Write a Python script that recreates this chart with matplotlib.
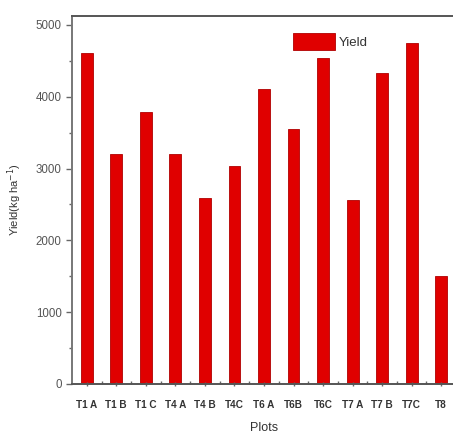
import matplotlib
matplotlib.use("Agg")
import matplotlib.pyplot as plt
from matplotlib.ticker import MultipleLocator, FixedLocator

plots = ["T1 A", "T1 B", "T1 C", "T4 A", "T4 B", "T4C", "T6 A", "T6B",
         "T6C", "T7 A", "T7 B", "T7C", "T8"]
yield_kg_ha = [4610, 3200, 3790, 3200, 2590, 3030, 4110, 3550,
               4540, 2560, 4330, 4750, 1500]

plt.rcParams["font.family"] = ["Liberation Sans", "DejaVu Sans"]

fig = plt.figure(figsize=(4.53, 4.37), dpi=100)
W, H = 453, 437
left, right, top, bottom = 72, 456, 16, 384
ax = fig.add_axes([left / W, 1 - bottom / H, (right - left) / W, (bottom - top) / H])

x = list(range(len(plots)))
ax.bar(x, yield_kg_ha, width=0.4, color="#e00000", edgecolor="#b00000",
       linewidth=0.6, label="Yield")

ax.set_xlim(-0.5, len(plots) - 0.5)
ax.set_ylim(0, 5125)
ax.yaxis.set_major_locator(MultipleLocator(1000))
ax.yaxis.set_minor_locator(MultipleLocator(500))
ax.set_xticks(x)
ax.set_xticklabels(plots, fontsize=7.2, fontweight="bold", color="#333333")
ax.xaxis.set_minor_locator(FixedLocator([i + 0.5 for i in x]))

ax.tick_params(axis="y", which="major", length=4, width=1, colors="#666666",
               labelcolor="#555555", labelsize=8.3, direction="out")
ax.tick_params(axis="y", which="minor", length=2.5, width=1, colors="#666666",
               direction="out")
ax.tick_params(axis="x", which="major", length=3, width=1, colors="#666666",
               labelcolor="#333333", direction="inout", pad=10)
ax.tick_params(axis="x", which="minor", length=2, width=1, colors="#666666",
               direction="in")

for s in ax.spines.values():
    s.set_color("#555555")
    s.set_linewidth(1.4)
ax.spines["left"].set_color("#777777")

ax.set_xlabel("Plots", fontsize=9, color="#333333", labelpad=9)
ax.set_ylabel("Yield(kg ha$^{-1}$)", fontsize=8, color="#333333", labelpad=8)

ax.legend(loc="upper left", bbox_to_anchor=((281 - left) / (right - left), 0.985),
          frameon=False, fontsize=9.5, handlelength=3.2, handleheight=1.6,
          handletextpad=0.3, labelcolor="#333333")

fig.savefig("out.png", dpi=100)
